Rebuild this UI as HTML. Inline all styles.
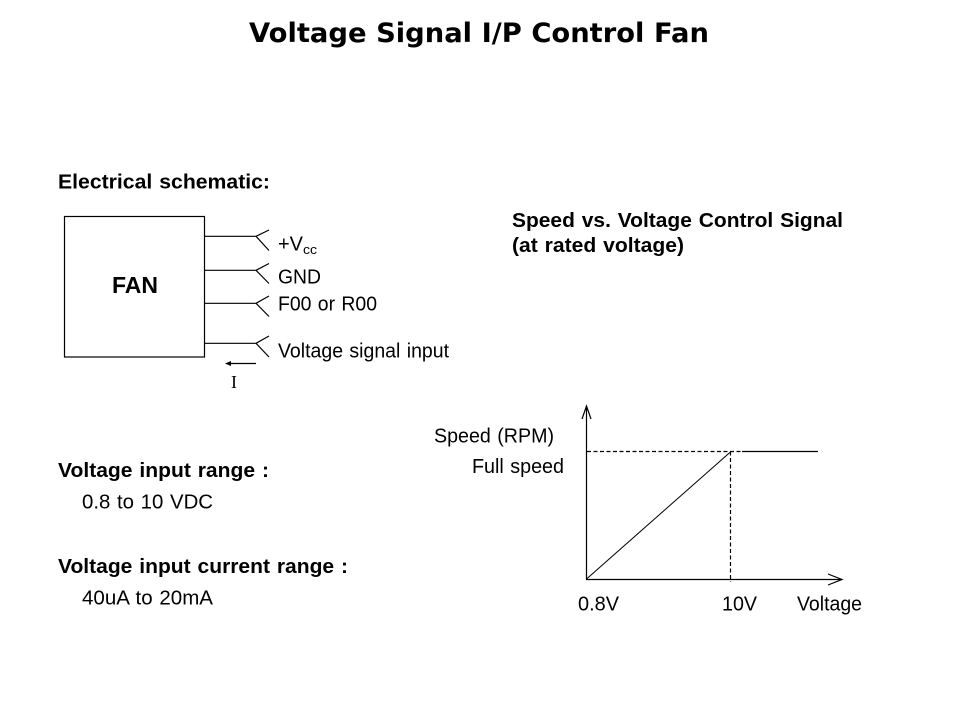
<!DOCTYPE html>
<html>
<head>
<meta charset="utf-8">
<style>
html,body{margin:0;padding:0;background:#fff;width:960px;height:720px;overflow:hidden}
svg{display:block}
text{font-family:"Liberation Sans",Arial,sans-serif;fill:#000;font-size:20px;word-spacing:1px}
.b{font-weight:bold}
</style>
</head>
<body>
<svg width="960" height="720" viewBox="0 0 960 720" xmlns="http://www.w3.org/2000/svg">
<rect width="960" height="720" fill="#fff"/>
<text class="b" x="249" y="42" style="font-family:'DejaVu Sans',sans-serif;font-size:27px;word-spacing:0" textLength="460" lengthAdjust="spacingAndGlyphs">Voltage Signal I/P Control Fan</text>
<text class="b" x="58" y="188.5" textLength="212" lengthAdjust="spacingAndGlyphs">Electrical schematic:</text>
<g fill="none" stroke="#000" stroke-width="1.2">
<rect x="64.5" y="216.5" width="140" height="140.5"/>
<path d="M204 236.3H256M269 230L256 236.3L269 250.5"/>
<path d="M204 270.3H256M269 263.5L256 270.3L269 283.5"/>
<path d="M204 303.3H256M269 296L256 303.3L269 316.5"/>
<path d="M204 343.3H256M269 336L256 343.3L269 357"/>
<path d="M228 363.5H256"/>
</g>
<path d="M225 363.5L231 361V366Z" fill="#000"/>
<text class="b" x="112" y="293" style="font-size:23px" textLength="46" lengthAdjust="spacingAndGlyphs">FAN</text>
<text x="278" y="250.5" textLength="25" lengthAdjust="spacingAndGlyphs">+V</text>
<text x="303" y="254" style="font-size:13px" textLength="14" lengthAdjust="spacingAndGlyphs">cc</text>
<text x="278" y="283.5" textLength="43" lengthAdjust="spacingAndGlyphs">GND</text>
<text x="278" y="310.5" textLength="99" lengthAdjust="spacingAndGlyphs">F00 or R00</text>
<text x="278" y="357.5" textLength="171" lengthAdjust="spacingAndGlyphs">Voltage signal input</text>
<text x="231" y="388" style="font-family:'Liberation Serif',serif;font-size:18px">I</text>
<text class="b" x="512" y="227" textLength="331" lengthAdjust="spacingAndGlyphs">Speed vs. Voltage Control Signal</text>
<text class="b" x="512" y="252" textLength="172" lengthAdjust="spacingAndGlyphs">(at rated voltage)</text>
<text class="b" x="58" y="477" textLength="211" lengthAdjust="spacingAndGlyphs">Voltage input range :</text>
<text x="82" y="508.5" textLength="131" lengthAdjust="spacingAndGlyphs">0.8 to 10 VDC</text>
<text class="b" x="58" y="573" textLength="290" lengthAdjust="spacingAndGlyphs">Voltage input current range :</text>
<text x="82" y="604.5" textLength="131" lengthAdjust="spacingAndGlyphs">40uA to 20mA</text>
<text x="434" y="442.5" textLength="120" lengthAdjust="spacingAndGlyphs">Speed (RPM)</text>
<text x="472" y="473" textLength="92" lengthAdjust="spacingAndGlyphs">Full speed</text>
<text x="578" y="610.5" textLength="41" lengthAdjust="spacingAndGlyphs">0.8V</text>
<text x="722" y="610.5" textLength="35" lengthAdjust="spacingAndGlyphs">10V</text>
<text x="797" y="610.5" textLength="65" lengthAdjust="spacingAndGlyphs">Voltage</text>
<g fill="none" stroke="#000" stroke-width="1.2">
<path d="M586.5 579.5V407M582 419L586.5 406L591 419"/>
<path d="M586 579.5H841M828 574L842 579.5L828 585"/>
<path d="M742 451.5H818"/>
<path d="M587 451.5H741" stroke-dasharray="4 2.5"/>
<path d="M730.5 451.5V582" stroke-dasharray="4 2.5"/>
<path d="M586.5 579L731 451.5" stroke-width="1"/>
</g>
</svg>
</body>
</html>
